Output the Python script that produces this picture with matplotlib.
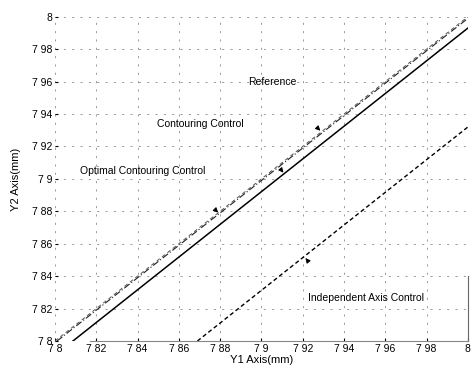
import matplotlib.pyplot as plt

plt.rcParams['font.family'] = ['Liberation Sans', 'DejaVu Sans']

# tick values and labels as printed (decimal points lost in the scan)
ticks = [7.8, 7.82, 7.84, 7.86, 7.88, 7.9, 7.92, 7.94, 7.96, 7.98, 8.0]
tick_labels = ['7 8', '7 82', '7 84', '7 86', '7 88', '7 9', '7 92', '7 94', '7 96', '7 98', '8']

# line end points
ref_x = [7.8, 8.0]
ref_y = [7.8, 8.0]
opt_x = [7.801, 8.0]
opt_y = [7.8, 7.999]
cont_x = [7.8087, 8.0]
cont_y = [7.8, 7.993]
ind_x = [7.869, 8.0]
ind_y = [7.8, 7.932]

fig = plt.figure(figsize=(4.74, 3.77), dpi=100)
ax = fig.add_axes([0.116, 0.0955, 0.871, 0.86])

ax.plot(ref_x, ref_y, color='#555555', lw=0.7, ls=(0, (4, 3)))
ax.plot(opt_x, opt_y, color='#222222', lw=0.8, ls=(0, (6, 2, 1, 2)))
ax.plot(cont_x, cont_y, color='black', lw=1.1, ls='-')
ax.plot(ind_x, ind_y, color='black', lw=1.0, ls=(0, (3, 2)))

ax.set_xlim(7.8, 8.0)
ax.set_ylim(7.8, 8.0)
ax.set_xticks(ticks)
ax.set_xticklabels(tick_labels)
ax.set_yticks(ticks)
ax.set_yticklabels(tick_labels)
ax.tick_params(labelsize=7.5, length=2, direction='in', pad=2)

# the scanned grid is faint and broken
ax.grid(True, color='black', lw=0.5, ls=(0, (3, 9)), alpha=0.55)

for s in ['top', 'left']:
    ax.spines[s].set_visible(False)
ax.spines['bottom'].set_color('#888888')
ax.spines['bottom'].set_bounds(7.817, 8.0)
ax.spines['right'].set_color('#666666')
ax.spines['right'].set_bounds(7.8, 7.84)

ax.set_xlabel('Y1 Axis(mm)', fontsize=8, labelpad=1)
ax.set_ylabel('Y2 Axis(mm)', fontsize=8, labelpad=8)

fs = 7.5
arr = dict(arrowstyle='-|>', color='black', lw=0.7, mutation_scale=7)
ax.text(7.8935, 7.96, 'Reference', fontsize=fs, va='center')
ax.annotate('', xy=(7.9295, 7.9285), xytext=(-5, 5), textcoords='offset points', arrowprops=arr)
ax.text(7.8494, 7.934, 'Contouring Control', fontsize=fs, va='center')
ax.annotate('', xy=(7.9115, 7.9025), xytext=(-4, 5), textcoords='offset points', arrowprops=arr)
ax.text(7.8121, 7.905, 'Optimal Contouring Control', fontsize=fs, va='center')
ax.annotate('', xy=(7.8800, 7.878), xytext=(-5, 5), textcoords='offset points', arrowprops=arr)
ax.text(7.9225, 7.8265, 'Independent Axis Control', fontsize=fs, va='center')
ax.annotate('', xy=(7.9205, 7.8525), xytext=(4, -5), textcoords='offset points', arrowprops=arr)

fig.savefig('out.png', dpi=100)
